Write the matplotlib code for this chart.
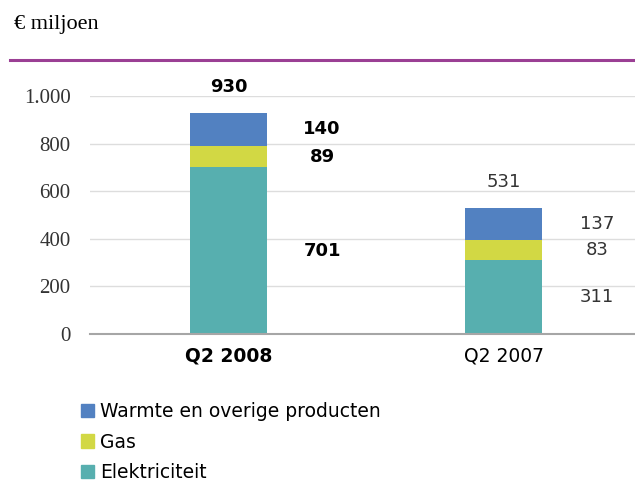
import matplotlib.pyplot as plt
from matplotlib.patches import Patch
from matplotlib.lines import Line2D

# data
periods = ["Q2 2008", "Q2 2007"]
elektriciteit = [701, 311]
gas = [89, 83]
warmte = [140, 137]
totals = [930, 531]

c_elek = "#57AFAF"
c_gas = "#D2D844"
c_warm = "#5281C1"
sans = ["DejaVu Sans"]
serif = ["Liberation Serif", "DejaVu Serif"]

fig = plt.figure(figsize=(6.35, 4.84), dpi=100)
ax = fig.add_axes([0.1417, 0.31, 0.8583, 0.4917])

x = list(range(len(periods)))
w = 0.28
bottom2 = [e + g for e, g in zip(elektriciteit, gas)]
ax.bar(x, elektriciteit, w, color=c_elek, zorder=3)
ax.bar(x, gas, w, bottom=elektriciteit, color=c_gas, zorder=3)
ax.bar(x, warmte, w, bottom=bottom2, color=c_warm, zorder=3)

ax.set_xlim(-0.504, 1.478)
ax.set_ylim(0, 1000)
ax.set_yticks([0, 200, 400, 600, 800, 1000])
ax.set_yticklabels(["0", "200", "400", "600", "800", "1.000"], family=serif,
                   fontsize=15, color="#333333")
ax.set_xticks(x)
ax.set_xticklabels(periods, family=sans, fontsize=13.5)
ax.get_xticklabels()[0].set_fontweight("bold")
ax.tick_params(axis="y", length=0, pad=14)
ax.tick_params(axis="x", length=0, pad=9)

ax.grid(axis="y", color="#DDDDDD", lw=1, zorder=0)
for s in ["top", "right", "left"]:
    ax.spines[s].set_visible(False)
ax.spines["bottom"].set_color("#A6A6A6")
ax.spines["bottom"].set_linewidth(1.5)
ax.spines["bottom"].set_zorder(4)

# value labels
for i in x:
    bold = "bold" if i == 0 else "normal"
    col = "black" if i == 0 else "#333333"
    ax.text(i, totals[i] + 108, str(totals[i]), ha="center", va="center",
            family=sans, fontsize=13, fontweight=bold, color=col, clip_on=False)
    segs = [(elektriciteit[i], 0), (gas[i], elektriciteit[i]), (warmte[i], bottom2[i])]
    for v, b in segs:
        ax.text(i + 0.34, b + v / 2, str(v), ha="center", va="center",
                family=sans, fontsize=13, fontweight=bold, color=col)

# header
fig.text(14 / 635, 1 - 25 / 484, "€ miljoen", family=serif, fontsize=16,
         ha="left", va="center")
fig.add_artist(Line2D([10 / 635, 1], [1 - 60 / 484] * 2, color="#9B3F94", lw=2.2,
                      transform=fig.transFigure))

handles = [Patch(color=c_warm), Patch(color=c_gas), Patch(color=c_elek)]
labels = ["Warmte en overige producten", "Gas", "Elektriciteit"]
fig.legend(handles, labels, loc="upper left", bbox_to_anchor=(64 / 635, 1 - 385 / 484),
           frameon=False, handlelength=0.7, handleheight=0.7, handletextpad=0.3,
           labelspacing=0.62, prop={"family": sans, "size": 13.5})

fig.savefig("out.png", dpi=100)
